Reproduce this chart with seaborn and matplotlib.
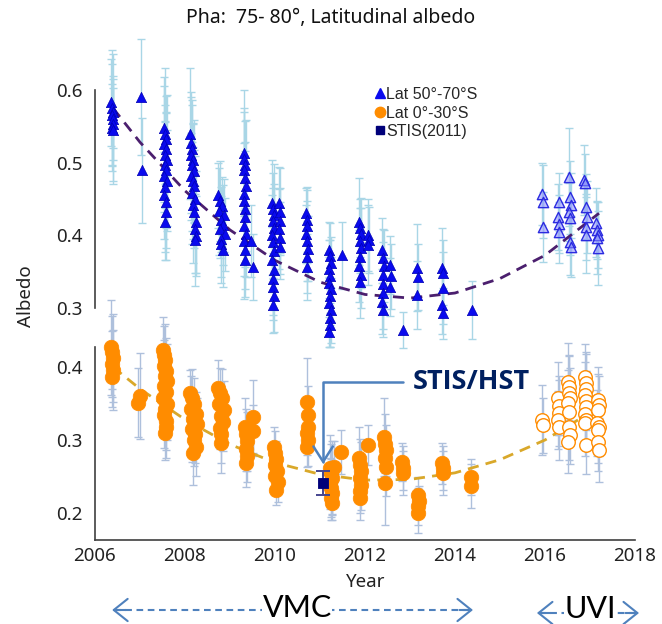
import matplotlib
matplotlib.use("Agg")
import matplotlib.pyplot as plt
from matplotlib import transforms
from matplotlib.lines import Line2D
import pandas as pd
import seaborn as sns

# ---------------------------------------------------------------- data
# Lat 50-70 S, VMC era (year, albedo, 1-sigma error)
hi_vmc_year = [
    2006.36, 2006.38, 2006.40, 2006.37, 2006.39, 2006.41, 2006.38, 2006.40,
    2007.02, 2007.04,
    2007.53, 2007.55, 2007.57, 2007.54, 2007.58, 2007.56, 2007.60, 2007.55,
    2007.57, 2007.53, 2007.59, 2007.56, 2007.54, 2007.58, 2007.57, 2007.55,
    2008.12, 2008.14, 2008.16, 2008.13, 2008.18, 2008.15, 2008.20, 2008.14, 2008.17,
    2008.19, 2008.16, 2008.22, 2008.18, 2008.21, 2008.24, 2008.23, 2008.25, 2008.22,
    2008.74, 2008.78, 2008.82, 2008.76, 2008.86, 2008.80, 2008.84, 2008.77, 2008.88,
    2008.81, 2008.79, 2008.85,
    2009.30, 2009.32, 2009.34, 2009.31, 2009.33, 2009.35, 2009.32, 2009.30, 2009.34,
    2009.33, 2009.31, 2009.35, 2009.32, 2009.34, 2009.33, 2009.47, 2009.51,
    2009.94, 2009.96, 2009.98, 2009.95, 2009.97, 2009.93, 2009.96, 2009.98, 2009.94,
    2009.97, 2009.95, 2009.96, 2009.98, 2009.95,
    2010.08, 2010.10, 2010.12, 2010.09, 2010.11, 2010.10,
    2010.68, 2010.70, 2010.72, 2010.69, 2010.71, 2010.73, 2010.70, 2010.72,
    2011.20, 2011.22, 2011.24, 2011.21, 2011.23, 2011.20, 2011.25, 2011.22, 2011.21,
    2011.24, 2011.22, 2011.23, 2011.21,
    2011.49,
    2011.87, 2011.89, 2011.91, 2011.88, 2011.90, 2011.89, 2011.87, 2011.91, 2011.88,
    2012.06, 2012.08, 2012.07,
    2012.38, 2012.40, 2012.42, 2012.39, 2012.41, 2012.40, 2012.38, 2012.41,
    2012.55, 2012.57, 2012.56,
    2012.84,
    2013.15, 2013.17, 2013.16,
    2013.72, 2013.74, 2013.73, 2013.71, 2013.74,
    2014.38,
]
hi_vmc_alb = [
    0.583, 0.575, 0.570, 0.566, 0.560, 0.553, 0.548, 0.545,
    0.590, 0.489,
    0.548, 0.540, 0.532, 0.525, 0.518, 0.510, 0.503, 0.497,
    0.490, 0.482, 0.475, 0.466, 0.455, 0.445, 0.432, 0.418,
    0.540, 0.527, 0.519, 0.511, 0.503, 0.496, 0.488, 0.481, 0.474,
    0.467, 0.458, 0.449, 0.441, 0.432, 0.418, 0.408, 0.399, 0.393,
    0.455, 0.447, 0.440, 0.433, 0.427, 0.421, 0.414, 0.408, 0.401,
    0.394, 0.387, 0.380,
    0.513, 0.505, 0.497, 0.489, 0.478, 0.468, 0.457, 0.447, 0.436,
    0.425, 0.413, 0.402, 0.392, 0.380, 0.366, 0.392, 0.356,
    0.444, 0.436, 0.428, 0.420, 0.410, 0.400, 0.390, 0.378, 0.366,
    0.352, 0.340, 0.328, 0.316, 0.303,
    0.444, 0.432, 0.420, 0.408, 0.396, 0.384,
    0.430, 0.421, 0.412, 0.402, 0.392, 0.381, 0.370, 0.356,
    0.380, 0.371, 0.362, 0.353, 0.343, 0.334, 0.325, 0.316, 0.306,
    0.296, 0.286, 0.276, 0.266,
    0.372,
    0.418, 0.410, 0.401, 0.392, 0.382, 0.370, 0.357, 0.345, 0.335,
    0.400, 0.393, 0.386,
    0.379, 0.368, 0.357, 0.345, 0.333, 0.320, 0.308, 0.297,
    0.358, 0.343, 0.328,
    0.269,
    0.355, 0.342, 0.317,
    0.355, 0.348, 0.327, 0.303, 0.292,
    0.297,
]
hi_vmc_err = [
    0.060, 0.080, 0.050, 0.070, 0.090, 0.050, 0.060, 0.070,
    0.080, 0.072,
    0.070, 0.090, 0.060, 0.080, 0.050, 0.070, 0.090, 0.060,
    0.080, 0.050, 0.070, 0.090, 0.060, 0.080, 0.050, 0.052,
    0.090, 0.070, 0.060, 0.080, 0.050, 0.090, 0.070, 0.060, 0.080,
    0.050, 0.070, 0.060, 0.080, 0.050, 0.070, 0.060, 0.055, 0.063,
    0.045, 0.055, 0.040, 0.060, 0.050, 0.045, 0.055, 0.040, 0.050,
    0.060, 0.045, 0.052,
    0.087, 0.070, 0.060, 0.080, 0.050, 0.090, 0.070, 0.060, 0.080,
    0.050, 0.070, 0.060, 0.080, 0.055, 0.052, 0.050, 0.045,
    0.060, 0.050, 0.070, 0.045, 0.060, 0.055, 0.050, 0.065, 0.045,
    0.055, 0.050, 0.045, 0.050, 0.038,
    0.050, 0.060, 0.045, 0.055, 0.050, 0.045,
    0.035, 0.045, 0.050, 0.040, 0.055, 0.045, 0.050, 0.046,
    0.038, 0.045, 0.035, 0.040, 0.050, 0.035, 0.045, 0.040, 0.035,
    0.045, 0.040, 0.030, 0.021,
    0.046,
    0.060, 0.040, 0.050, 0.045, 0.055, 0.040, 0.050, 0.045, 0.050,
    0.050, 0.045, 0.055,
    0.045, 0.040, 0.050, 0.045, 0.040, 0.050, 0.045, 0.037,
    0.040, 0.045, 0.040,
    0.025,
    0.060, 0.045, 0.047,
    0.055, 0.045, 0.050, 0.040, 0.035,
    0.040,
]

# Lat 50-70 S, UVI era
hi_uvi_year = [2015.94, 2015.96, 2015.95,
               2016.30, 2016.28, 2016.32, 2016.30,
               2016.53, 2016.55, 2016.57, 2016.54, 2016.56, 2016.55, 2016.57,
               2016.87, 2016.89, 2016.91, 2016.93, 2016.90, 2016.92,
               2017.13, 2017.15, 2017.17, 2017.16, 2017.18]
hi_uvi_alb = [0.457, 0.446, 0.411,
              0.446, 0.425, 0.415, 0.404,
              0.480, 0.452, 0.441, 0.432, 0.423, 0.390, 0.384,
              0.476, 0.472, 0.439, 0.425, 0.411, 0.400,
              0.417, 0.407, 0.400, 0.396, 0.382]
hi_uvi_err = [0.043, 0.050, 0.048,
              0.040, 0.045, 0.040, 0.042,
              0.068, 0.050, 0.045, 0.040, 0.050, 0.045, 0.042,
              0.048, 0.040, 0.045, 0.050, 0.045, 0.052,
              0.048, 0.040, 0.045, 0.050, 0.051]

# Lat 0-30 S, VMC era
lo_vmc_year = [
    2006.36, 2006.38, 2006.40, 2006.37, 2006.39, 2006.38,
    2007.00, 2006.96,
    2007.52, 2007.54, 2007.56, 2007.53, 2007.58, 2007.55, 2007.60, 2007.54,
    2007.57, 2007.52, 2007.59, 2007.56, 2007.53, 2007.58, 2007.57, 2007.55,
    2008.12, 2008.16, 2008.20, 2008.14, 2008.24, 2008.18, 2008.27, 2008.15,
    2008.22, 2008.19, 2008.25, 2008.17,
    2008.74, 2008.78, 2008.82, 2008.76, 2008.86, 2008.80, 2008.84, 2008.77,
    2008.81, 2008.79,
    2009.34, 2009.36, 2009.38, 2009.35, 2009.37, 2009.36, 2009.50, 2009.51,
    2009.97, 2010.00, 2010.03, 2009.99, 2010.05, 2010.01, 2010.06, 2010.02,
    2010.72, 2010.74, 2010.73, 2010.71, 2010.74, 2010.72,
    2011.22, 2011.24, 2011.26, 2011.23, 2011.25, 2011.27, 2011.24, 2011.26,
    2011.30, 2011.47,
    2011.87, 2011.89, 2011.91, 2011.88, 2011.90, 2011.89, 2011.88,
    2012.07,
    2012.43, 2012.45, 2012.47, 2012.44, 2012.46, 2012.45,
    2012.83, 2012.85, 2012.84,
    2013.17, 2013.19, 2013.18, 2013.18,
    2013.72, 2013.74, 2013.73,
    2014.36, 2014.36,
]
lo_vmc_alb = [
    0.427, 0.420, 0.412, 0.404, 0.396, 0.386,
    0.360, 0.351,
    0.423, 0.416, 0.409, 0.402, 0.395, 0.388, 0.381, 0.374,
    0.366, 0.358, 0.350, 0.342, 0.334, 0.326, 0.318, 0.310,
    0.364, 0.357, 0.350, 0.343, 0.336, 0.329, 0.322, 0.315,
    0.308, 0.300, 0.291, 0.282,
    0.371, 0.364, 0.357, 0.349, 0.341, 0.333, 0.325, 0.317,
    0.308, 0.296,
    0.318, 0.308, 0.298, 0.288, 0.278, 0.268, 0.332, 0.313,
    0.290, 0.282, 0.274, 0.266, 0.258, 0.250, 0.242, 0.231,
    0.352, 0.334, 0.318, 0.309, 0.300, 0.290,
    0.262, 0.255, 0.248, 0.241, 0.234, 0.227, 0.220, 0.214,
    0.263, 0.284,
    0.275, 0.266, 0.257, 0.248, 0.239, 0.230, 0.220,
    0.293,
    0.304, 0.295, 0.286, 0.276, 0.263, 0.241,
    0.270, 0.262, 0.255,
    0.225, 0.217, 0.209, 0.200,
    0.268, 0.262, 0.255,
    0.249, 0.237,
]
lo_vmc_err = [
    0.065, 0.050, 0.060, 0.045, 0.055, 0.041,
    0.059, 0.047,
    0.045, 0.040, 0.050, 0.035, 0.045, 0.040, 0.050, 0.035,
    0.045, 0.040, 0.050, 0.035, 0.045, 0.040, 0.042, 0.037,
    0.032, 0.040, 0.035, 0.045, 0.030, 0.040, 0.035, 0.045,
    0.040, 0.035, 0.040, 0.044,
    0.039, 0.035, 0.040, 0.030, 0.040, 0.035, 0.040, 0.030,
    0.040, 0.041,
    0.040, 0.035, 0.040, 0.030, 0.035, 0.032, 0.050, 0.035,
    0.028, 0.030, 0.025, 0.030, 0.028, 0.025, 0.027, 0.020,
    0.060, 0.040, 0.035, 0.030, 0.035, 0.027,
    0.045, 0.040, 0.050, 0.035, 0.040, 0.030, 0.030, 0.024,
    0.035, 0.030,
    0.043, 0.035, 0.040, 0.030, 0.035, 0.030, 0.030,
    0.027,
    0.054, 0.040, 0.035, 0.030, 0.040, 0.057,
    0.026, 0.030, 0.030,
    0.024, 0.020, 0.025, 0.027,
    0.028, 0.030, 0.030,
    0.025, 0.030,
]

# Lat 0-30 S, UVI era
lo_uvi_year = [2015.94, 2015.96,
               2016.29, 2016.31, 2016.30, 2016.28, 2016.32,
               2016.52, 2016.54, 2016.53, 2016.55, 2016.52, 2016.54, 2016.53, 2016.55, 2016.52,
               2016.88, 2016.90, 2016.92, 2016.89, 2016.91, 2016.90, 2016.88, 2016.92, 2016.89, 2016.91,
               2017.17, 2017.19, 2017.18, 2017.16, 2017.20, 2017.18, 2017.17, 2017.19]
lo_uvi_alb = [0.327, 0.320,
              0.357, 0.347, 0.337, 0.327, 0.318,
              0.379, 0.372, 0.365, 0.358, 0.351, 0.338, 0.318, 0.307, 0.297,
              0.386, 0.378, 0.370, 0.362, 0.354, 0.345, 0.336, 0.327, 0.323, 0.293,
              0.355, 0.348, 0.341, 0.323, 0.318, 0.314, 0.297, 0.286]
lo_uvi_err = [0.048, 0.038,
              0.050, 0.040, 0.045, 0.040, 0.045,
              0.054, 0.045, 0.050, 0.040, 0.045, 0.040, 0.045, 0.040, 0.042,
              0.045, 0.040, 0.050, 0.045, 0.040, 0.050, 0.045, 0.040, 0.045, 0.040,
              0.045, 0.040, 0.050, 0.045, 0.040, 0.045, 0.040, 0.044]

# HST/STIS reference measurement
stis_year = [2011.07]
stis_alb = [0.241]
stis_err = [0.017]

# Quadratic trend curves
fit_year = [2006.4, 2007, 2008, 2009, 2010, 2011, 2012, 2013, 2014, 2015, 2016, 2017.2]
hi_fit_alb = [0.575, 0.528, 0.461, 0.407, 0.365, 0.335, 0.318, 0.313, 0.320, 0.340, 0.372, 0.430]
lo_fit_alb = [0.400, 0.370, 0.328, 0.294, 0.269, 0.253, 0.245, 0.246, 0.255, 0.273, 0.300, 0.345]

legend_labels = ["Lat 50°-70°S", "Lat 0°-30°S", "STIS(2011)"]
year_ticks = [2006, 2008, 2010, 2012, 2014, 2016, 2018]
hi_ticks = [0.3, 0.4, 0.5, 0.6]
lo_ticks = [0.2, 0.3, 0.4]

# ---------------------------------------------------------------- style
sns.set_theme(style="white")
plt.rcParams["font.family"] = ["Noto Sans", "DejaVu Sans"]

AX_COL = "#404040"
BLUE = "#0A0AEE"
ORANGE = "#FF8C00"
HI_ERR = "#A9D6E6"
LO_ERR = "#AEC0DC"
ARROW = "#4F81BD"

W, H = 662, 624
fig = plt.figure(figsize=(W / 100, H / 100), dpi=100)
fig.patch.set_facecolor("white")

left, right = 95 / W, 635 / W
ax_lo = fig.add_axes([left, 1 - 540 / H, right - left, 250 / H])
ax_hi = fig.add_axes([left, 1 - 360 / H, right - left, 320 / H])
for ax in (ax_lo, ax_hi):
    ax.set_facecolor("none")
    ax.set_xlim(2006, 2018)
ax_lo.set_ylim(0.163, 0.5055)
ax_hi.set_ylim(0.2276, 0.669)

hi_vmc = pd.DataFrame({"year": hi_vmc_year, "albedo": hi_vmc_alb, "err": hi_vmc_err})
hi_uvi = pd.DataFrame({"year": hi_uvi_year, "albedo": hi_uvi_alb, "err": hi_uvi_err})
lo_vmc = pd.DataFrame({"year": lo_vmc_year, "albedo": lo_vmc_alb, "err": lo_vmc_err})
lo_uvi = pd.DataFrame({"year": lo_uvi_year, "albedo": lo_uvi_alb, "err": lo_uvi_err})

# error bars first, markers on top
for ax, frames, ecol in ((ax_hi, (hi_vmc, hi_uvi), HI_ERR), (ax_lo, (lo_vmc, lo_uvi), LO_ERR)):
    for df in frames:
        ax.errorbar(df["year"], df["albedo"], yerr=df["err"], fmt="none",
                    ecolor=ecol, elinewidth=1.0, capsize=3.2, capthick=1.0,
                    zorder=1, clip_on=False)

sns.lineplot(x=fit_year, y=hi_fit_alb, ax=ax_hi, color="#4B1F6E", lw=2.0,
             linestyle=(0, (4, 2.6)), sort=False, zorder=2)
sns.lineplot(x=fit_year, y=lo_fit_alb, ax=ax_lo, color="#D9A82A", lw=2.0,
             linestyle=(0, (4, 2.6)), sort=False, zorder=2)

sns.scatterplot(data=hi_vmc, x="year", y="albedo", ax=ax_hi, marker="^", s=55,
                color=BLUE, edgecolor="#0000B4", linewidth=0.5, zorder=3, legend=False)
sns.scatterplot(data=hi_uvi, x="year", y="albedo", ax=ax_hi, marker="^", s=55,
                color=(0.55, 0.55, 1.0, 0.55), edgecolor="#2B2BE0", linewidth=1.0,
                zorder=3, legend=False)
sns.scatterplot(data=lo_vmc, x="year", y="albedo", ax=ax_lo, marker="o", s=110,
                color=ORANGE, edgecolor=ORANGE, linewidth=0.5, zorder=3, legend=False)
sns.scatterplot(data=lo_uvi, x="year", y="albedo", ax=ax_lo, marker="o", s=95,
                color="white", edgecolor=ORANGE, linewidth=1.0, zorder=3, legend=False)

ax_lo.errorbar(stis_year, stis_alb, yerr=stis_err, fmt="none", ecolor="#45458F",
               elinewidth=1.4, capsize=5, capthick=1.4, zorder=4)
sns.scatterplot(x=stis_year, y=stis_alb, ax=ax_lo, marker="s", s=60, color="#00007A",
                edgecolor="#00007A", zorder=5, legend=False)

# ---------------------------------------------------------------- axes
for ax in (ax_lo, ax_hi):
    ax.set_xlabel("")
    ax.set_ylabel("")
    for side in ("top", "right"):
        ax.spines[side].set_visible(False)
    ax.spines["left"].set_color(AX_COL)
    ax.spines["left"].set_linewidth(1.2)
    ax.tick_params(axis="both", direction="in", length=8, width=1.2, color=AX_COL,
                   labelsize=13.5, labelcolor="#222222", pad=9)

ax_hi.spines["bottom"].set_visible(False)
ax_hi.set_xticks([])
ax_hi.set_yticks(hi_ticks)
ax_hi.set_yticklabels([f"{v:.1f}" for v in hi_ticks])
ax_hi.spines["left"].set_bounds(0.3, 0.6)

ax_lo.set_yticks(lo_ticks)
ax_lo.set_yticklabels([f"{v:.1f}" for v in lo_ticks])
ax_lo.spines["left"].set_bounds(0.163, 0.428)
ax_lo.spines["bottom"].set_color(AX_COL)
ax_lo.spines["bottom"].set_linewidth(1.2)
ax_lo.set_xticks(year_ticks)
ax_lo.set_xticklabels([str(y) for y in year_ticks])
ax_lo.tick_params(axis="x", pad=5)

fig.text(366 / W, 1 - 582 / H, "Year", ha="center", va="center", fontsize=13.5, color="#222222")
fig.text(26 / W, 1 - 296 / H, "Albedo", ha="center", va="center", rotation=90,
         fontsize=13.5, color="#222222")
fig.text(0.5, 1 - 18 / H, "Pha:  75- 80°, Latitudinal albedo", ha="center", va="center",
         fontsize=14, color="#111111")

# legend
handles = [
    Line2D([], [], marker="^", ls="none", color="#0A0AEE", ms=6.5),
    Line2D([], [], marker="o", ls="none", color=ORANGE, ms=7.5),
    Line2D([], [], marker="s", ls="none", color="#00007A", ms=6),
]
ax_hi.legend(handles, legend_labels, loc="upper left",
             bbox_to_anchor=(376 / W, 1 - 87 / H), bbox_transform=fig.transFigure,
             frameon=False, prop={"family": "Liberation Sans", "size": 11.5},
             handlelength=0.5, handletextpad=0.15, labelspacing=0.22,
             borderpad=0, borderaxespad=0)

# STIS/HST callout
ax_lo.annotate("STIS/HST", xy=(stis_year[0], 0.267), xytext=(2013.05, 0.379),
               ha="left", va="center", fontsize=19.5, fontweight="bold",
               family="Open Sans", color="#002060",
               arrowprops=dict(arrowstyle="->,head_length=0.55,head_width=0.35",
                               connectionstyle="angle,angleA=0,angleB=90,rad=0",
                               color=ARROW, lw=1.8, shrinkA=4, shrinkB=0,
                               mutation_scale=20))

# instrument coverage arrows below the axis
blend = transforms.blended_transform_factory(ax_lo.transData, fig.transFigure)


def coverage(x0, x1, y, label, xc, base):
    ax_lo.plot([x0 + 0.05, x1 - 0.05], [y, y], transform=blend, clip_on=False,
               color=ARROW, lw=1.5, linestyle=(0, (3.2, 2.2)))
    for tip, tail in ((x0, x0 + 0.3), (x1, x1 - 0.3)):
        ax_lo.annotate("", xy=(tip, y), xytext=(tail, y), xycoords=blend,
                       textcoords=blend, annotation_clip=False,
                       arrowprops=dict(arrowstyle="->,head_length=0.4,head_width=0.32",
                                       color=ARROW, lw=1.5, shrinkA=0, shrinkB=0,
                                       mutation_scale=25))
    ax_lo.text(xc, base, label, transform=blend, ha="center", va="baseline",
               fontsize=22, family="Lato", color="black", clip_on=False,
               bbox=dict(fc="white", ec="none", pad=0.5), zorder=6)


coverage(2006.38, 2014.4, 1 - 610 / H, "VMC", 2010.49, 1 - 617 / H)
coverage(2015.82, 2018.09, 1 - 613 / H, "UVI", 2017.0, 1 - 618 / H)

fig.savefig("out.png", dpi=100, facecolor="white")
